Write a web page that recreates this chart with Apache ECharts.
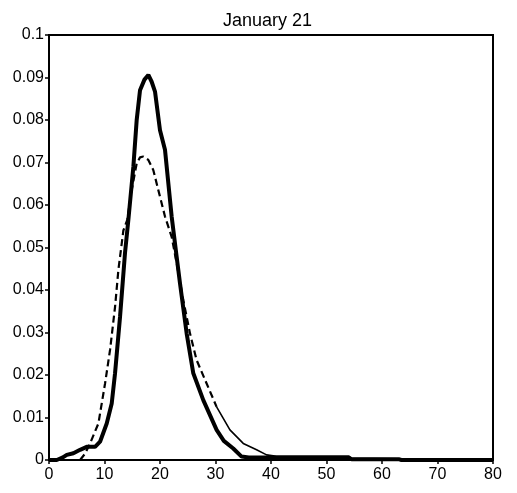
<!DOCTYPE html>
<html><head><meta charset="utf-8">
<script src="https://cdn.jsdelivr.net/npm/echarts@6/dist/echarts.min.js"></script>
<style>html,body{margin:0;padding:0;background:#fff}#c{width:517px;height:493px}</style>
</head><body><div id="c"></div>
<script>
const title = 'January 21';
const solidX = [0, 1.4, 2.5, 3.2, 4.4, 5.6, 6.8, 8.3, 9.2, 10.4, 11.3, 11.9, 12.8, 13.7, 14.3, 15.2, 15.8, 16.4, 17.2, 17.9, 18.5, 19.1, 20, 20.9, 22.1, 23, 23.6, 24.8, 26, 27.8, 30.2, 31.5, 33.2, 34.7, 36, 54, 54.5, 63, 63.5, 80];
const solidY = [0, 0, 0.0006, 0.0012, 0.0016, 0.0024, 0.0031, 0.0031, 0.0043, 0.0086, 0.0133, 0.0204, 0.0337, 0.0488, 0.0565, 0.069, 0.08, 0.087, 0.0895, 0.0906, 0.089, 0.0867, 0.0776, 0.073, 0.0573, 0.0478, 0.0416, 0.0298, 0.0204, 0.0141, 0.0071, 0.0045, 0.0027, 0.0008, 0.0006, 0.0006, 0.0002, 0.0002, 0, 0];
const dashX = [5.6, 6.5, 7.4, 8.9, 10.1, 11, 11.9, 12.5, 13.4, 14.1, 14.9, 15.8, 16.4, 17, 17.9, 18.8, 19.7, 20.9, 22.1, 23, 24.2, 25.4, 26.6, 28.4, 30.2, 32.6, 35, 37.4, 39.2, 41, 54, 54.5, 63, 63.5, 80];
const dashY = [0, 0.0015, 0.0039, 0.0086, 0.018, 0.0259, 0.036, 0.0447, 0.054, 0.0565, 0.0635, 0.0698, 0.0712, 0.0714, 0.0706, 0.0682, 0.0635, 0.0573, 0.0525, 0.0463, 0.0376, 0.0298, 0.0235, 0.018, 0.0125, 0.0071, 0.0039, 0.0024, 0.0012, 0.0009, 0.0009, 0.0004, 0.0003, 0.0001, 0];
const dashEndX = 30.2;

const solidData = solidX.map((x, i) => [x, solidY[i]]);
const dashAll = dashX.map((x, i) => [x, dashY[i]]);
const dashData = dashAll.filter(p => p[0] <= dashEndX);
const thinData = dashAll.filter(p => p[0] >= dashEndX);

const font = 'Liberation Sans, Arial, sans-serif';
const chart = echarts.init(document.getElementById('c'), null, {renderer: 'canvas'});
chart.setOption({
  animation: false,
  title: {text: title, left: 218, top: 7, textStyle: {fontFamily: font, fontSize: 18, fontWeight: 'normal', color: '#000'}},
  grid: {left: 49, right: 24, top: 35, bottom: 33, show: true, borderColor: '#000', borderWidth: 2},
  xAxis: {type: 'value', min: 0, max: 80, interval: 10,
    axisLine: {lineStyle: {color: '#000', width: 2}}, axisTick: {length: 4, lineStyle: {color: '#000', width: 1.5}},
    splitLine: {show: false}, axisLabel: {color: '#000', fontFamily: font, fontSize: 16, margin: 7}},
  yAxis: {type: 'value', min: 0, max: 0.1, interval: 0.01,
    axisLine: {show: true, lineStyle: {color: '#000', width: 2}}, axisTick: {show: true, length: 4, lineStyle: {color: '#000', width: 1.5}},
    splitLine: {show: false}, axisLabel: {color: '#000', fontFamily: font, fontSize: 16, margin: 5,
      formatter: v => v === 0 ? '0' : String(+v.toFixed(2))}},
  series: [
    {type: 'line', data: dashData, showSymbol: false, lineStyle: {color: '#000', width: 2.2, type: [7, 4]}, z: 2},
    {type: 'line', data: thinData, showSymbol: false, lineStyle: {color: '#000', width: 1.6}, z: 2},
    {type: 'line', data: solidData, showSymbol: false, lineStyle: {color: '#000', width: 4}, z: 3}
  ]
});
</script></body></html>
